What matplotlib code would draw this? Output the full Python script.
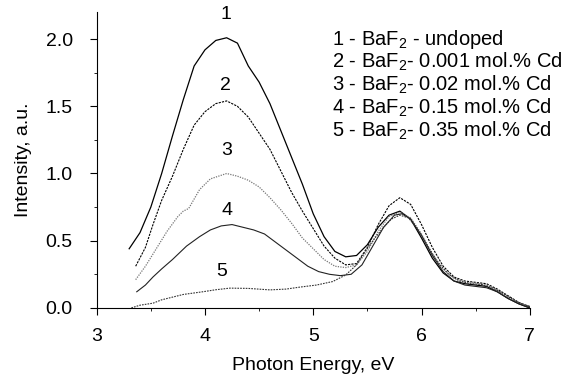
# Photoluminescence excitation spectra of BaF2 samples

import numpy as np
import matplotlib
matplotlib.use("Agg")
import matplotlib.pyplot as plt
from matplotlib.ticker import MultipleLocator

plt.rcParams['font.family'] = ['Liberation Sans', 'DejaVu Sans']
plt.rcParams['mathtext.fontset'] = 'custom'
plt.rcParams['mathtext.rm'] = 'Liberation Sans'
plt.rcParams['mathtext.it'] = 'Liberation Sans'

# curve 1 - undoped
x1 = [3.30, 3.40, 3.50, 3.60, 3.70, 3.80, 3.90, 4.00, 4.10, 4.20, 4.30, 4.40, 4.50,
      4.60, 4.70, 4.80, 4.90, 5.00, 5.10, 5.20, 5.30, 5.40, 5.50, 5.60, 5.70, 5.80,
      5.90, 6.00, 6.10, 6.20, 6.30, 6.40, 6.50, 6.60, 6.70, 6.80, 6.90, 7.00]
y1 = [0.44, 0.56, 0.75, 1.00, 1.28, 1.55, 1.80, 1.92, 1.99, 2.01, 1.97, 1.80, 1.68,
      1.52, 1.32, 1.12, 0.92, 0.70, 0.53, 0.42, 0.38, 0.39, 0.47, 0.60, 0.69, 0.72,
      0.66, 0.52, 0.37, 0.26, 0.20, 0.18, 0.17, 0.16, 0.12, 0.07, 0.03, 0.00]

# curve 2 - 0.001 mol.% Cd
x2 = [3.36, 3.45, 3.52, 3.60, 3.70, 3.80, 3.90, 4.00, 4.10, 4.20, 4.30, 4.40, 4.50,
      4.60, 4.70, 4.80, 4.90, 5.00, 5.10, 5.20, 5.30, 5.40, 5.50, 5.60, 5.70, 5.80,
      5.90, 6.00, 6.10, 6.20, 6.30, 6.40, 6.50, 6.60, 6.70, 6.80, 6.90, 7.00]
y2 = [0.31, 0.45, 0.62, 0.80, 0.98, 1.18, 1.36, 1.46, 1.52, 1.54, 1.50, 1.42, 1.30,
      1.18, 1.02, 0.86, 0.72, 0.59, 0.46, 0.37, 0.32, 0.33, 0.45, 0.62, 0.76, 0.82,
      0.77, 0.62, 0.45, 0.31, 0.23, 0.20, 0.19, 0.18, 0.14, 0.09, 0.04, 0.01]

# curve 3 - 0.02 mol.% Cd
x3 = [3.36, 3.45, 3.55, 3.65, 3.75, 3.80, 3.85, 3.95, 4.05, 4.20, 4.30, 4.40, 4.50,
      4.60, 4.70, 4.80, 4.90, 5.00, 5.10, 5.20, 5.30, 5.40, 5.50, 5.60, 5.70, 5.80,
      5.90, 6.00, 6.10, 6.20, 6.30, 6.40, 6.50, 6.60, 6.70, 6.80, 6.90, 7.00]
y3 = [0.21, 0.31, 0.44, 0.57, 0.68, 0.72, 0.74, 0.88, 0.96, 1.00, 0.98, 0.95, 0.90,
      0.82, 0.73, 0.63, 0.52, 0.44, 0.36, 0.31, 0.30, 0.32, 0.42, 0.57, 0.68, 0.71,
      0.67, 0.55, 0.40, 0.29, 0.22, 0.19, 0.185, 0.17, 0.13, 0.08, 0.04, 0.01]

# curve 4 - 0.15 mol.% Cd
x4 = [3.37, 3.45, 3.52, 3.60, 3.70, 3.83, 3.95, 4.05, 4.15, 4.25, 4.35, 4.45, 4.55,
      4.65, 4.75, 4.85, 4.95, 5.05, 5.15, 5.25, 5.35, 5.45, 5.55, 5.65, 5.75, 5.82,
      5.90, 6.00, 6.10, 6.20, 6.30, 6.40, 6.50, 6.60, 6.70, 6.80, 6.90, 7.00]
y4 = [0.12, 0.17, 0.23, 0.29, 0.36, 0.46, 0.53, 0.58, 0.61, 0.62, 0.60, 0.58, 0.55,
      0.49, 0.43, 0.37, 0.31, 0.27, 0.25, 0.24, 0.25, 0.32, 0.46, 0.60, 0.69, 0.70,
      0.66, 0.54, 0.39, 0.27, 0.20, 0.17, 0.16, 0.15, 0.12, 0.07, 0.03, 0.00]

# curve 5 - 0.35 mol.% Cd
x5 = [3.32, 3.40, 3.52, 3.60, 3.70, 3.80, 3.98, 4.10, 4.23, 4.40, 4.60, 4.75, 4.88,
      5.03, 5.18, 5.30, 5.40, 5.49, 5.57, 5.65, 5.72, 5.80, 5.88, 5.95, 6.05, 6.15,
      6.25, 6.35, 6.45, 6.55, 6.65, 6.75, 6.85, 6.95, 7.00]
y5 = [0.00, 0.02, 0.035, 0.06, 0.08, 0.10, 0.12, 0.135, 0.147, 0.145, 0.134, 0.14, 0.155,
      0.17, 0.196, 0.245, 0.32, 0.43, 0.52, 0.60, 0.66, 0.69, 0.67, 0.60, 0.47, 0.34,
      0.25, 0.20, 0.18, 0.175, 0.15, 0.11, 0.06, 0.02, 0.01]

labels = ['1', '2', '3', '4', '5']
label_pos = [(4.19, 2.18), (4.19, 1.655), (4.2, 1.17), (4.2, 0.724), (4.15, 0.27)]
legend_lines = ['1 - BaF$_2$ - undoped',
                '2 - BaF$_2$- 0.001 mol.% Cd',
                '3 - BaF$_2$- 0.02 mol.% Cd',
                '4 - BaF$_2$- 0.15 mol.% Cd',
                '5 - BaF$_2$- 0.35 mol.% Cd']

fig = plt.figure(figsize=(5.79, 3.82), dpi=100)
ax = fig.add_axes([0.167, 0.194, 0.748, 0.774])

ax.plot(x1, y1, color='black', lw=0.9, ls='-')
ax.plot(x2, y2, color='black', lw=0.8, ls=(0, (2, 1)))
ax.plot(x3, y3, color='#777777', lw=0.9, ls=(0, (1, 1)))
ax.plot(x4, y4, color='#222222', lw=0.8, ls='-')
ax.plot(x5, y5, color='#333333', lw=0.8, ls=(0, (1.5, 1)))

for lab, (lx, ly) in zip(labels, label_pos):
    ax.text(lx, ly, lab, fontsize=14, ha='center', va='center')

for i, line in enumerate(legend_lines):
    ax.text(0.543, 0.890 - i * 0.0775, line, fontsize=14.5, ha='left', va='baseline',
            transform=ax.transAxes)

ax.set_xlim(3, 7)
ax.set_ylim(0, 2.2)
ax.xaxis.set_major_locator(MultipleLocator(1))
ax.xaxis.set_minor_locator(MultipleLocator(0.5))
ax.yaxis.set_major_locator(MultipleLocator(0.5))
ax.yaxis.set_minor_locator(MultipleLocator(0.25))
ax.yaxis.set_major_formatter(plt.FormatStrFormatter('%.1f'))
ax.spines['top'].set_visible(False)
ax.spines['right'].set_visible(False)
ax.tick_params(which='major', direction='out', length=5.3, labelsize=14)
ax.tick_params(axis='y', which='major', pad=12)
ax.tick_params(axis='x', which='major', pad=9)
ax.tick_params(which='minor', direction='out', length=2.5)
ax.set_xlabel('Photon Energy, eV', fontsize=14, labelpad=9)
ax.set_ylabel('Intensity, a.u.', fontsize=14, labelpad=10)

plt.savefig('out.png', dpi=100)
